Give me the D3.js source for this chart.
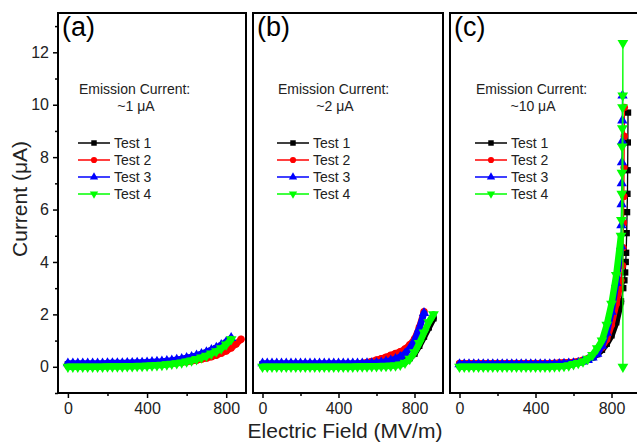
<!DOCTYPE html>
<html>
<head>
<meta charset="utf-8">
<script src="https://cdn.jsdelivr.net/npm/d3@7"></script>
<style>
  body { margin: 0; background: #fff; }
  svg { display: block; font-family: "Liberation Sans", Arial, sans-serif; }
</style>
</head>
<body>
<div id="chart"></div>
<script>
// shared sweep grid (MV/m), one reading every 25 MV/m
const fieldGrid = [0, 25, 50, 75, 100, 125, 150, 175, 200, 225, 250, 275, 300, 325, 350, 375, 400, 425,
    450, 475, 500, 525, 550, 575, 600, 625, 650, 675, 700, 725, 750, 775, 800, 825, 850, 875, 900];

const testNames = ['Test 1', 'Test 2', 'Test 3', 'Test 4'];
const testColors = ['#000000', '#ff0000', '#0000ff', '#00ff00'];
const panelLabels = ['(a)', '(b)', '(c)'];
const emissionLabels = ['~1 \u03bcA', '~2 \u03bcA', '~10 \u03bcA'];

// panel (a) ~1 uA
const a1 = [0.1, 0.1, 0.1, 0.1, 0.1, 0.1, 0.1, 0.1, 0.1, 0.11, 0.11, 0.11, 0.12, 0.12, 0.13, 0.13, 0.14, 0.15,
    0.16, 0.17, 0.19, 0.21, 0.24, 0.27, 0.31, 0.35, 0.4, 0.46, 0.53, 0.61, 0.7, 0.8, 0.91, 1.03];
const a2 = [0.05, 0.05, 0.05, 0.05, 0.05, 0.05, 0.05, 0.05, 0.05, 0.05, 0.06, 0.06, 0.06, 0.07, 0.07, 0.08, 0.08,
    0.09, 0.1, 0.11, 0.12, 0.13, 0.15, 0.17, 0.19, 0.22, 0.25, 0.29, 0.33, 0.38, 0.44, 0.52, 0.6, 0.72, 0.87, 1.05];
const a3 = [0.13, 0.13, 0.13, 0.13, 0.13, 0.13, 0.13, 0.13, 0.14, 0.14, 0.14, 0.14, 0.15, 0.15, 0.16, 0.16, 0.17,
    0.18, 0.19, 0.2, 0.22, 0.24, 0.27, 0.3, 0.34, 0.38, 0.43, 0.49, 0.56, 0.64, 0.73, 0.83, 0.95, 1.1];
const a4 = [0, 0, 0, 0, 0, 0, 0, 0, 0.01, 0.01, 0.01, 0.01, 0.02, 0.02, 0.03, 0.03, 0.04, 0.05, 0.06, 0.07,
    0.09, 0.11, 0.13, 0.16, 0.2, 0.24, 0.29, 0.35, 0.42, 0.5, 0.59, 0.7, 0.85, 1.05];

// panel (b) ~2 uA
const b1 = [0.1, 0.1, 0.1, 0.1, 0.1, 0.1, 0.1, 0.1, 0.1, 0.1, 0.1, 0.1, 0.1, 0.1, 0.1, 0.1, 0.1, 0.1, 0.1, 0.1,
    0.1, 0.1, 0.1, 0.1, 0.11, 0.12, 0.13, 0.14, 0.16, 0.19, 0.24, 0.33, 0.5, 0.8, 1.15, 1.5, 1.85];
const b2 = [0.05, 0.05, 0.05, 0.05, 0.05, 0.05, 0.05, 0.05, 0.05, 0.05, 0.05, 0.05, 0.05, 0.05, 0.05, 0.05,
    0.05, 0.06, 0.07, 0.09, 0.11, 0.14, 0.17, 0.21, 0.26, 0.31, 0.37, 0.44, 0.51, 0.58, 0.68, 0.84, 1.06, 1.5, 2.1];
const b3 = [0.13, 0.13, 0.13, 0.13, 0.13, 0.13, 0.13, 0.13, 0.13, 0.13, 0.13, 0.13, 0.13, 0.13, 0.13, 0.13,
    0.13, 0.13, 0.13, 0.13, 0.13, 0.13, 0.14, 0.14, 0.15, 0.17, 0.2, 0.24, 0.3, 0.38, 0.5, 0.7, 1.0, 1.45, 2.05];
const b4 = [0, 0, 0, 0, 0, 0, 0, 0, 0, 0, 0, 0, 0, 0, 0, 0, 0, 0, 0, 0,
    0.01, 0.01, 0.01, 0.02, 0.02, 0.03, 0.03, 0.04, 0.05, 0.08, 0.15, 0.3, 0.55, 0.9, 1.3, 1.7, 2.0];

// panel (c) ~10 uA, sweep part plus the steep tail as [field, current]
const c1 = [0.08, 0.08, 0.08, 0.08, 0.08, 0.08, 0.08, 0.08, 0.08, 0.08, 0.08, 0.08, 0.08, 0.08, 0.08, 0.08,
    0.08, 0.08, 0.08, 0.08, 0.09, 0.1, 0.11, 0.13, 0.15, 0.18, 0.22, 0.28, 0.36, 0.48, 0.65, 0.88, 1.2, 1.7, 2.5];
const c2 = [0.13, 0.13, 0.13, 0.13, 0.13, 0.13, 0.13, 0.13, 0.13, 0.13, 0.13, 0.13, 0.13, 0.13, 0.13, 0.13,
    0.13, 0.13, 0.13, 0.13, 0.14, 0.15, 0.16, 0.17, 0.18, 0.21, 0.25, 0.31, 0.4, 0.55, 0.75, 1.05, 1.6, 2.4, 3.3];
const c3 = [0.1, 0.1, 0.1, 0.1, 0.1, 0.1, 0.1, 0.1, 0.1, 0.1, 0.1, 0.1, 0.1, 0.1, 0.1, 0.1, 0.1, 0.1, 0.1, 0.1,
    0.1, 0.11, 0.12, 0.13, 0.14, 0.16, 0.2, 0.26, 0.35, 0.5, 0.8, 1.3, 2.1, 3.2, 4.6];
const c4 = [0, 0, 0, 0, 0, 0, 0, 0, 0, 0, 0, 0, 0, 0, 0, 0, 0, 0, 0, 0,
    0.01, 0.02, 0.03, 0.05, 0.1, 0.14, 0.2, 0.3, 0.45, 0.7, 1.0, 1.6, 2.4, 3.5, 5.0];
const c1Tail = [[862, 3.0], [868, 3.3], [872, 3.6], [875, 4.0], [877, 4.35], [880, 5.1], [882, 5.9], [884, 6.6],
    [885, 7.5], [886, 8.56], [887, 9.7]];
const c2Tail = [[858, 3.86], [861, 4.55], [863, 5.5], [865, 6.5], [866, 7.6], [867, 8.8], [868, 9.9]];
const c3Tail = [[852, 5.4], [853, 6.2], [854, 7.0], [855, 7.8], [856, 8.6], [857, 9.4], [858, 10.35]];
const c4Tail = [[852, 5.6], [854, 6.6], [855, 7.4], [856, 8.4], [857, 9.1], [858, 9.9], [859, 10.35],
    [860, 12.35], [860, 0]];

const yMajor = [0, 2, 4, 6, 8, 10, 12];
const yMinor = [-1, 1, 3, 5, 7, 9, 11, 13];
const xMajor = [0, 400, 800];
const xMinor = [200, 600];

function sweep(currents) {
    return currents.map((c, i) => [fieldGrid[i], c]);
}

const panels = [
    { label: panelLabels[0], emission: emissionLabels[0], xDomain: [-50, 900], range: [58, 246], textOff: 21,
      series: [[sweep(a1), []], [sweep(a2), []], [sweep(a3), []], [sweep(a4), []]] },
    { label: panelLabels[1], emission: emissionLabels[1], xDomain: [-50, 950], range: [253, 443], textOff: 25,
      series: [[sweep(b1), []], [sweep(b2), []], [sweep(b3), []], [sweep(b4), []]] },
    { label: panelLabels[2], emission: emissionLabels[2], xDomain: [-50, 950], range: [450, 640], textOff: 26,
      series: [[sweep(c1), c1Tail], [sweep(c2), c2Tail], [sweep(c3), c3Tail], [sweep(c4), c4Tail]] },
];

const W = 637, H = 442;
const plotTop = 13, plotBottom = 393;

const svg = d3.select('#chart').append('svg')
    .attr('width', W)
    .attr('height', H);

svg.append('rect').attr('width', W).attr('height', H).attr('fill', '#fff');

const y = d3.scaleLinear().domain([-1, 13.5]).range([plotBottom, plotTop]);

const symbols = [
    { type: d3.symbolSquare, size: 40, rot: 0 },
    { type: d3.symbolCircle, size: 42, rot: 0 },
    { type: d3.symbolTriangle, size: 46, rot: 0 },
    { type: d3.symbolTriangle, size: 50, rot: 180 },
];

panels.forEach((p) => {
    const x = d3.scaleLinear().domain(p.xDomain).range(p.range);
    const g = svg.append('g');

    const line = d3.line().x((d) => x(d[0])).y((d) => y(d[1]));

    p.series.forEach(([sw, tail], si) => {
        const sym = symbols[si];
        const all = sw.concat(tail);

        // densely sampled sweep: markers merge into a solid band
        g.append('path')
            .datum(sw)
            .attr('d', line)
            .attr('fill', 'none')
            .attr('stroke', testColors[si])
            .attr('stroke-width', 6.5)
            .attr('stroke-linejoin', 'round')
            .attr('stroke-linecap', 'round');

        g.append('path')
            .datum(all)
            .attr('d', line)
            .attr('fill', 'none')
            .attr('stroke', testColors[si])
            .attr('stroke-width', 1.3);

        g.selectAll(null)
            .data(all)
            .enter()
            .append('path')
            .attr('d', d3.symbol().type(sym.type).size(sym.size))
            .attr('transform', (d) => `translate(${x(d[0])},${y(d[1])}) rotate(${sym.rot})`)
            .attr('fill', testColors[si]);
    });

    // x axis
    const xg = svg.append('g').attr('transform', `translate(0,${plotBottom})`);
    xg.call(d3.axisBottom(x).tickValues(xMajor).tickSize(5).tickPadding(5));
    xg.call((s) => s.select('.domain').remove());
    xg.selectAll('text').style('font-size', '16px').attr('fill', '#222');
    xg.selectAll('line').attr('stroke-width', 1.5);

    const xm = svg.append('g').attr('transform', `translate(0,${plotBottom})`);
    xm.call(d3.axisBottom(x).tickValues(xMinor).tickSize(3).tickFormat(''));
    xm.call((s) => s.select('.domain').remove());
    xm.selectAll('line').attr('stroke-width', 1.5);

    // frame
    svg.append('rect')
        .attr('x', p.range[0])
        .attr('y', plotTop)
        .attr('width', p.range[1] - p.range[0])
        .attr('height', plotBottom - plotTop)
        .attr('fill', 'none')
        .attr('stroke', '#000')
        .attr('stroke-width', 2);

    // panel label
    svg.append('text')
        .attr('x', p.range[0] + 4)
        .attr('y', 36)
        .style('font-size', '27px')
        .text(p.label);

    const tx = p.range[0] + p.textOff;
    svg.append('text')
        .attr('x', tx)
        .attr('y', 94)
        .style('font-size', '14px')
        .attr('fill', '#222')
        .text('Emission Current:');
    svg.append('text')
        .attr('x', tx + 57)
        .attr('y', 111)
        .attr('text-anchor', 'middle')
        .style('font-size', '14px')
        .attr('fill', '#222')
        .text(p.emission);

    // legend
    testNames.forEach((name, si) => {
        const ly = 143 + si * 17;
        const sym = symbols[si];
        svg.append('line')
            .attr('x1', tx - 1).attr('x2', tx + 31)
            .attr('y1', ly).attr('y2', ly)
            .attr('stroke', testColors[si])
            .attr('stroke-width', 1.5);
        svg.append('path')
            .attr('d', d3.symbol().type(sym.type).size(30))
            .attr('transform', `translate(${tx + 15},${ly}) rotate(${sym.rot})`)
            .attr('fill', testColors[si]);
        svg.append('text')
            .attr('x', tx + 35)
            .attr('y', ly + 5)
            .style('font-size', '14px')
            .attr('fill', '#222')
            .text(name);
    });
});

// y axis on the first panel only
const yg = svg.append('g').attr('transform', `translate(${panels[0].range[0]},0)`);
yg.call(d3.axisLeft(y).tickValues(yMajor).tickSize(5).tickPadding(4));
yg.call((s) => s.select('.domain').remove());
yg.selectAll('text').style('font-size', '16px').attr('fill', '#222');
yg.selectAll('line').attr('stroke-width', 1.5);

const ym = svg.append('g').attr('transform', `translate(${panels[0].range[0]},0)`);
ym.call(d3.axisLeft(y).tickValues(yMinor).tickSize(3).tickFormat(''));
ym.call((s) => s.select('.domain').remove());
ym.selectAll('line').attr('stroke-width', 1.5);

svg.append('text')
    .attr('transform', 'translate(27,199) rotate(-90)')
    .attr('text-anchor', 'middle')
    .style('font-size', '21px')
    .attr('fill', '#222')
    .text('Current (\u03bcA)');

svg.append('text')
    .attr('x', 345)
    .attr('y', 438)
    .attr('text-anchor', 'middle')
    .style('font-size', '21px')
    .attr('fill', '#222')
    .text('Electric Field (MV/m)');
</script>
</body>
</html>
